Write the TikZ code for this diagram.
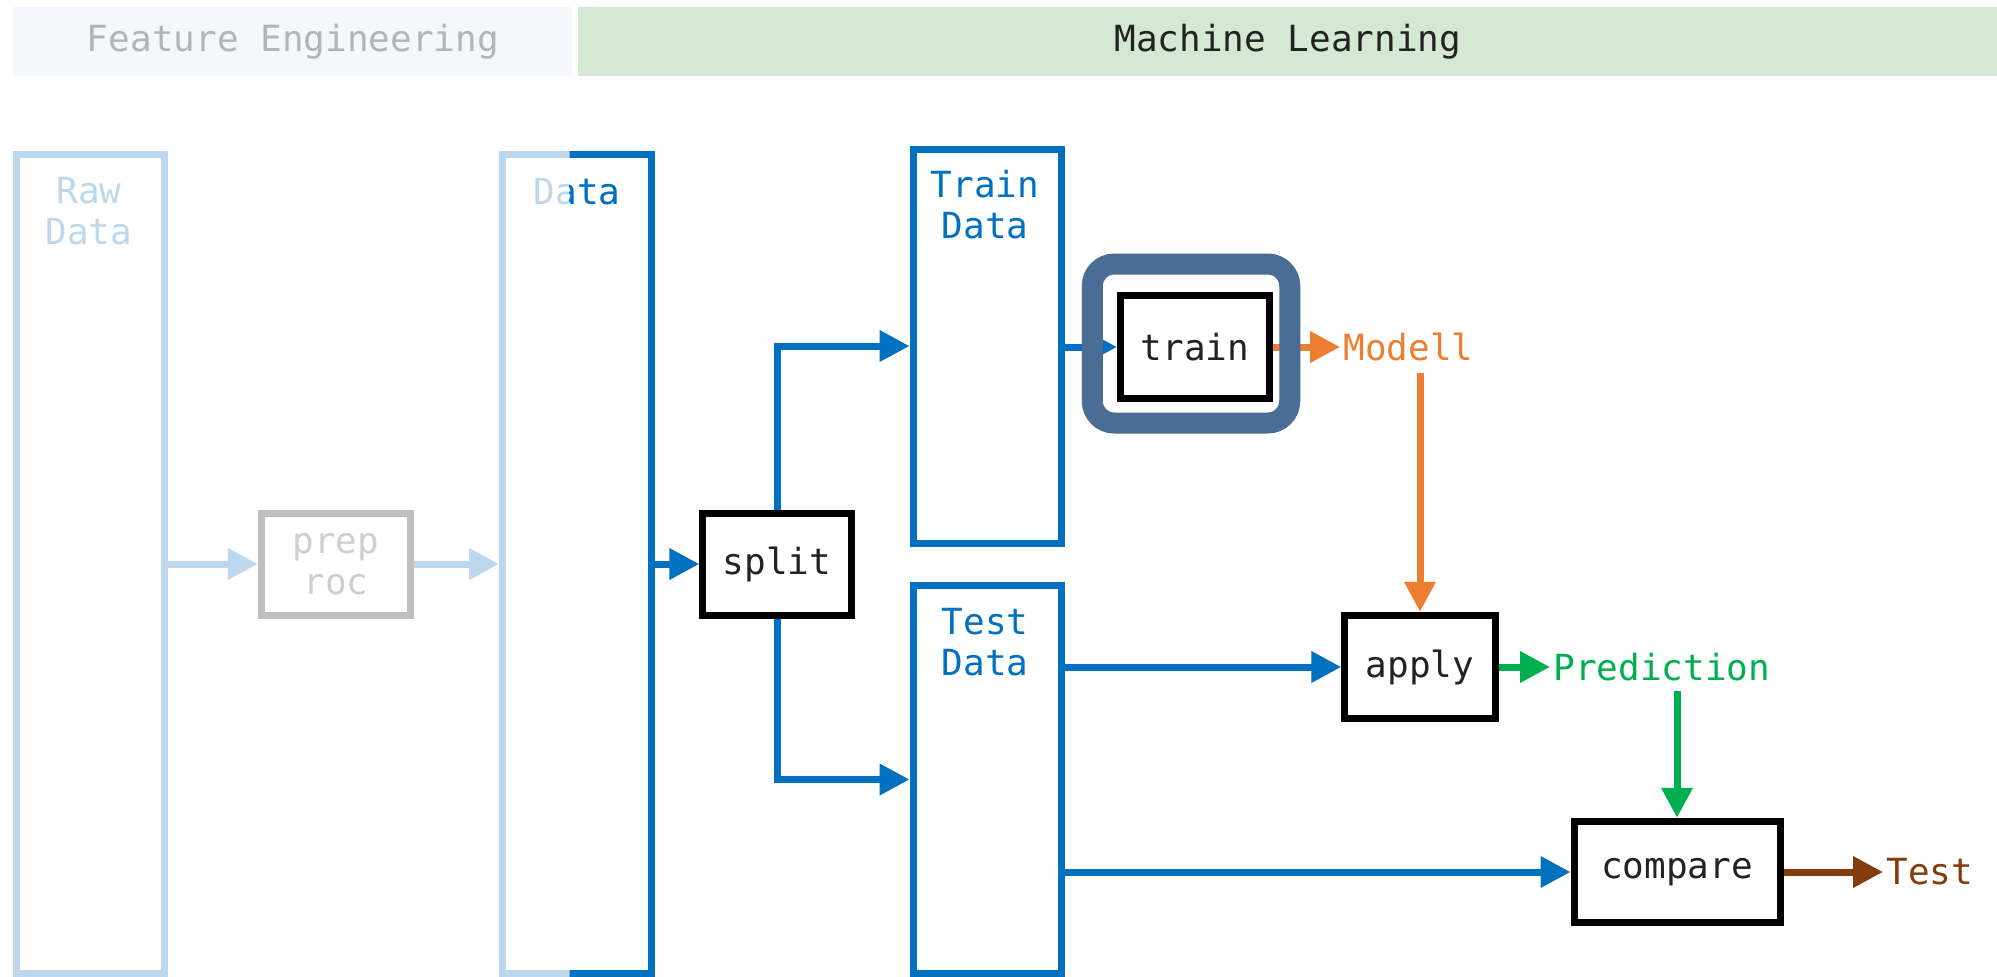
\documentclass[tikz,border=0pt]{standalone}
\usepackage{fontspec}
\setmonofont{DejaVu Sans Mono}
\usetikzlibrary{arrows.meta}
\definecolor{dblue}{HTML}{0070C0}
\definecolor{lblue}{HTML}{BDD7EE}
\definecolor{pgray}{HTML}{BFBFBF}
\definecolor{ptext}{HTML}{CFCFCF}
\definecolor{feband}{HTML}{F4F7FC}
\definecolor{fetext}{HTML}{B4B4B4}
\definecolor{mlband}{HTML}{D5E8D4}
\definecolor{orng}{HTML}{ED7D31}
\definecolor{grn}{HTML}{00B050}
\definecolor{brn}{HTML}{843C0C}
\definecolor{hilite}{HTML}{4A6D96}
\definecolor{boxtext}{HTML}{222222}
\begin{document}
\begin{tikzpicture}[x=0.5pt,y=-0.5pt,
  every node/.style={font=\ttfamily\fontsize{18}{20.5}\selectfont},
  col/.style={draw, line width=3.5pt, inner sep=0pt, minimum width=74.25pt},
  proc/.style={draw=black, line width=3.5pt, minimum width=75pt, minimum height=51pt, inner sep=0pt, text=boxtext, align=center},
  arr/.style={line width=3.5pt, -{Triangle[length=15pt,width=15pt]}},
  lbl/.style={align=center, inner sep=0pt},
  outlbl/.style={anchor=west, inner sep=1.5pt},
  band/.style={inner sep=0pt, anchor=north west, minimum height=34.5pt}
]
\clip (0,0) rectangle (1997,976);
\fill[white] (0,0) rectangle (1997,976);
% header bands
\node[band, fill=feband, minimum width=279.5pt, text=fetext] (fe) at (13,7) {Feature Engineering};
\node[band, fill=mlband, minimum width=709.5pt, text=boxtext] (ml) at (578,7) {Machine Learning};
% data columns
\node[col, draw=lblue, minimum width=74pt, minimum height=409.5pt] (raw) at (90.5,564) {};
\node[lbl, text=lblue] (rawlbl) at (89,211.5) {Raw\\Data};
\node[col, draw=lblue, minimum height=409.75pt] (data) at (576.75,563.75) {};
\node[lbl, text=lblue] (datalbl) at (577,192) {Data};
\begin{scope}
  \clip (569.5,0) rectangle (700,1000);
  \node[col, draw=dblue, minimum height=409.75pt] (datadark) at (576.75,563.75) {};
  \node[lbl, text=dblue] (datalbldark) at (577,192) {Data};
\end{scope}
\node[col, draw=dblue, minimum height=197pt] (traind) at (987.25,346) {};
\node[lbl, text=dblue] (traindlbl) at (985,205) {Train\\Data};
\node[col, draw=dblue, minimum height=194pt] (testd) at (987.25,779.5) {};
\node[lbl, text=dblue] (testdlbl) at (985,642) {Test\\Data};
% process boxes
\node[proc, draw=pgray, text=ptext, minimum width=74.75pt] (prep) at (336,564) {prep\\roc};
\node[proc, minimum width=74.25pt] (split) at (777,564) {split};
\node[proc, minimum width=74.5pt, minimum height=51.5pt] (train) at (1195,347) {train};
\node[proc, minimum width=75.25pt, minimum height=51.75pt] (apply) at (1420,667) {apply};
\node[proc, minimum width=103pt, minimum height=50.75pt] (compare) at (1677,872) {compare};
% outputs
\node[outlbl, text=orng] (modell) at (1340,347) {Modell};
\node[outlbl, text=grn] (pred) at (1550,667) {Prediction};
\node[outlbl, text=brn] (test) at (1883,872) {Test};
% connectors
\draw[arr, lblue] (prep.west -| raw.east) -- (prep.west);
\draw[arr, lblue] (prep.east) -- (prep.east -| data.west);
\draw[arr, dblue] (split.west -| data.east) -- (split.west);
\draw[arr, dblue] (split.north) |- (traind.west);
\draw[arr, dblue] (split.south) |- (testd.west);
\draw[arr, dblue] (train.west -| traind.east) -- (train.west);
\draw[arr, dblue] (apply.west -| testd.east) -- (apply.west);
\draw[arr, dblue] (compare.west -| testd.east) -- (compare.west);
\draw[arr, orng] (train.east) -- (modell.west);
\draw[arr, orng, shorten <=4.5pt] (modell.south -| apply.north) -- (apply.north);
\draw[arr, grn] (apply.east) -- (pred.west);
\draw[arr, grn, shorten <=3.5pt] (pred.south -| compare.north) -- (compare.north);
\draw[arr, brn] (compare.east) -- (test.west);
% highlight frame around train
\node[draw=hilite, line width=10.5pt, rounded corners=11pt, minimum width=98.75pt, minimum height=79.5pt, inner sep=0pt] (hl) at (1191,343.5) {};
\end{tikzpicture}
\end{document}
